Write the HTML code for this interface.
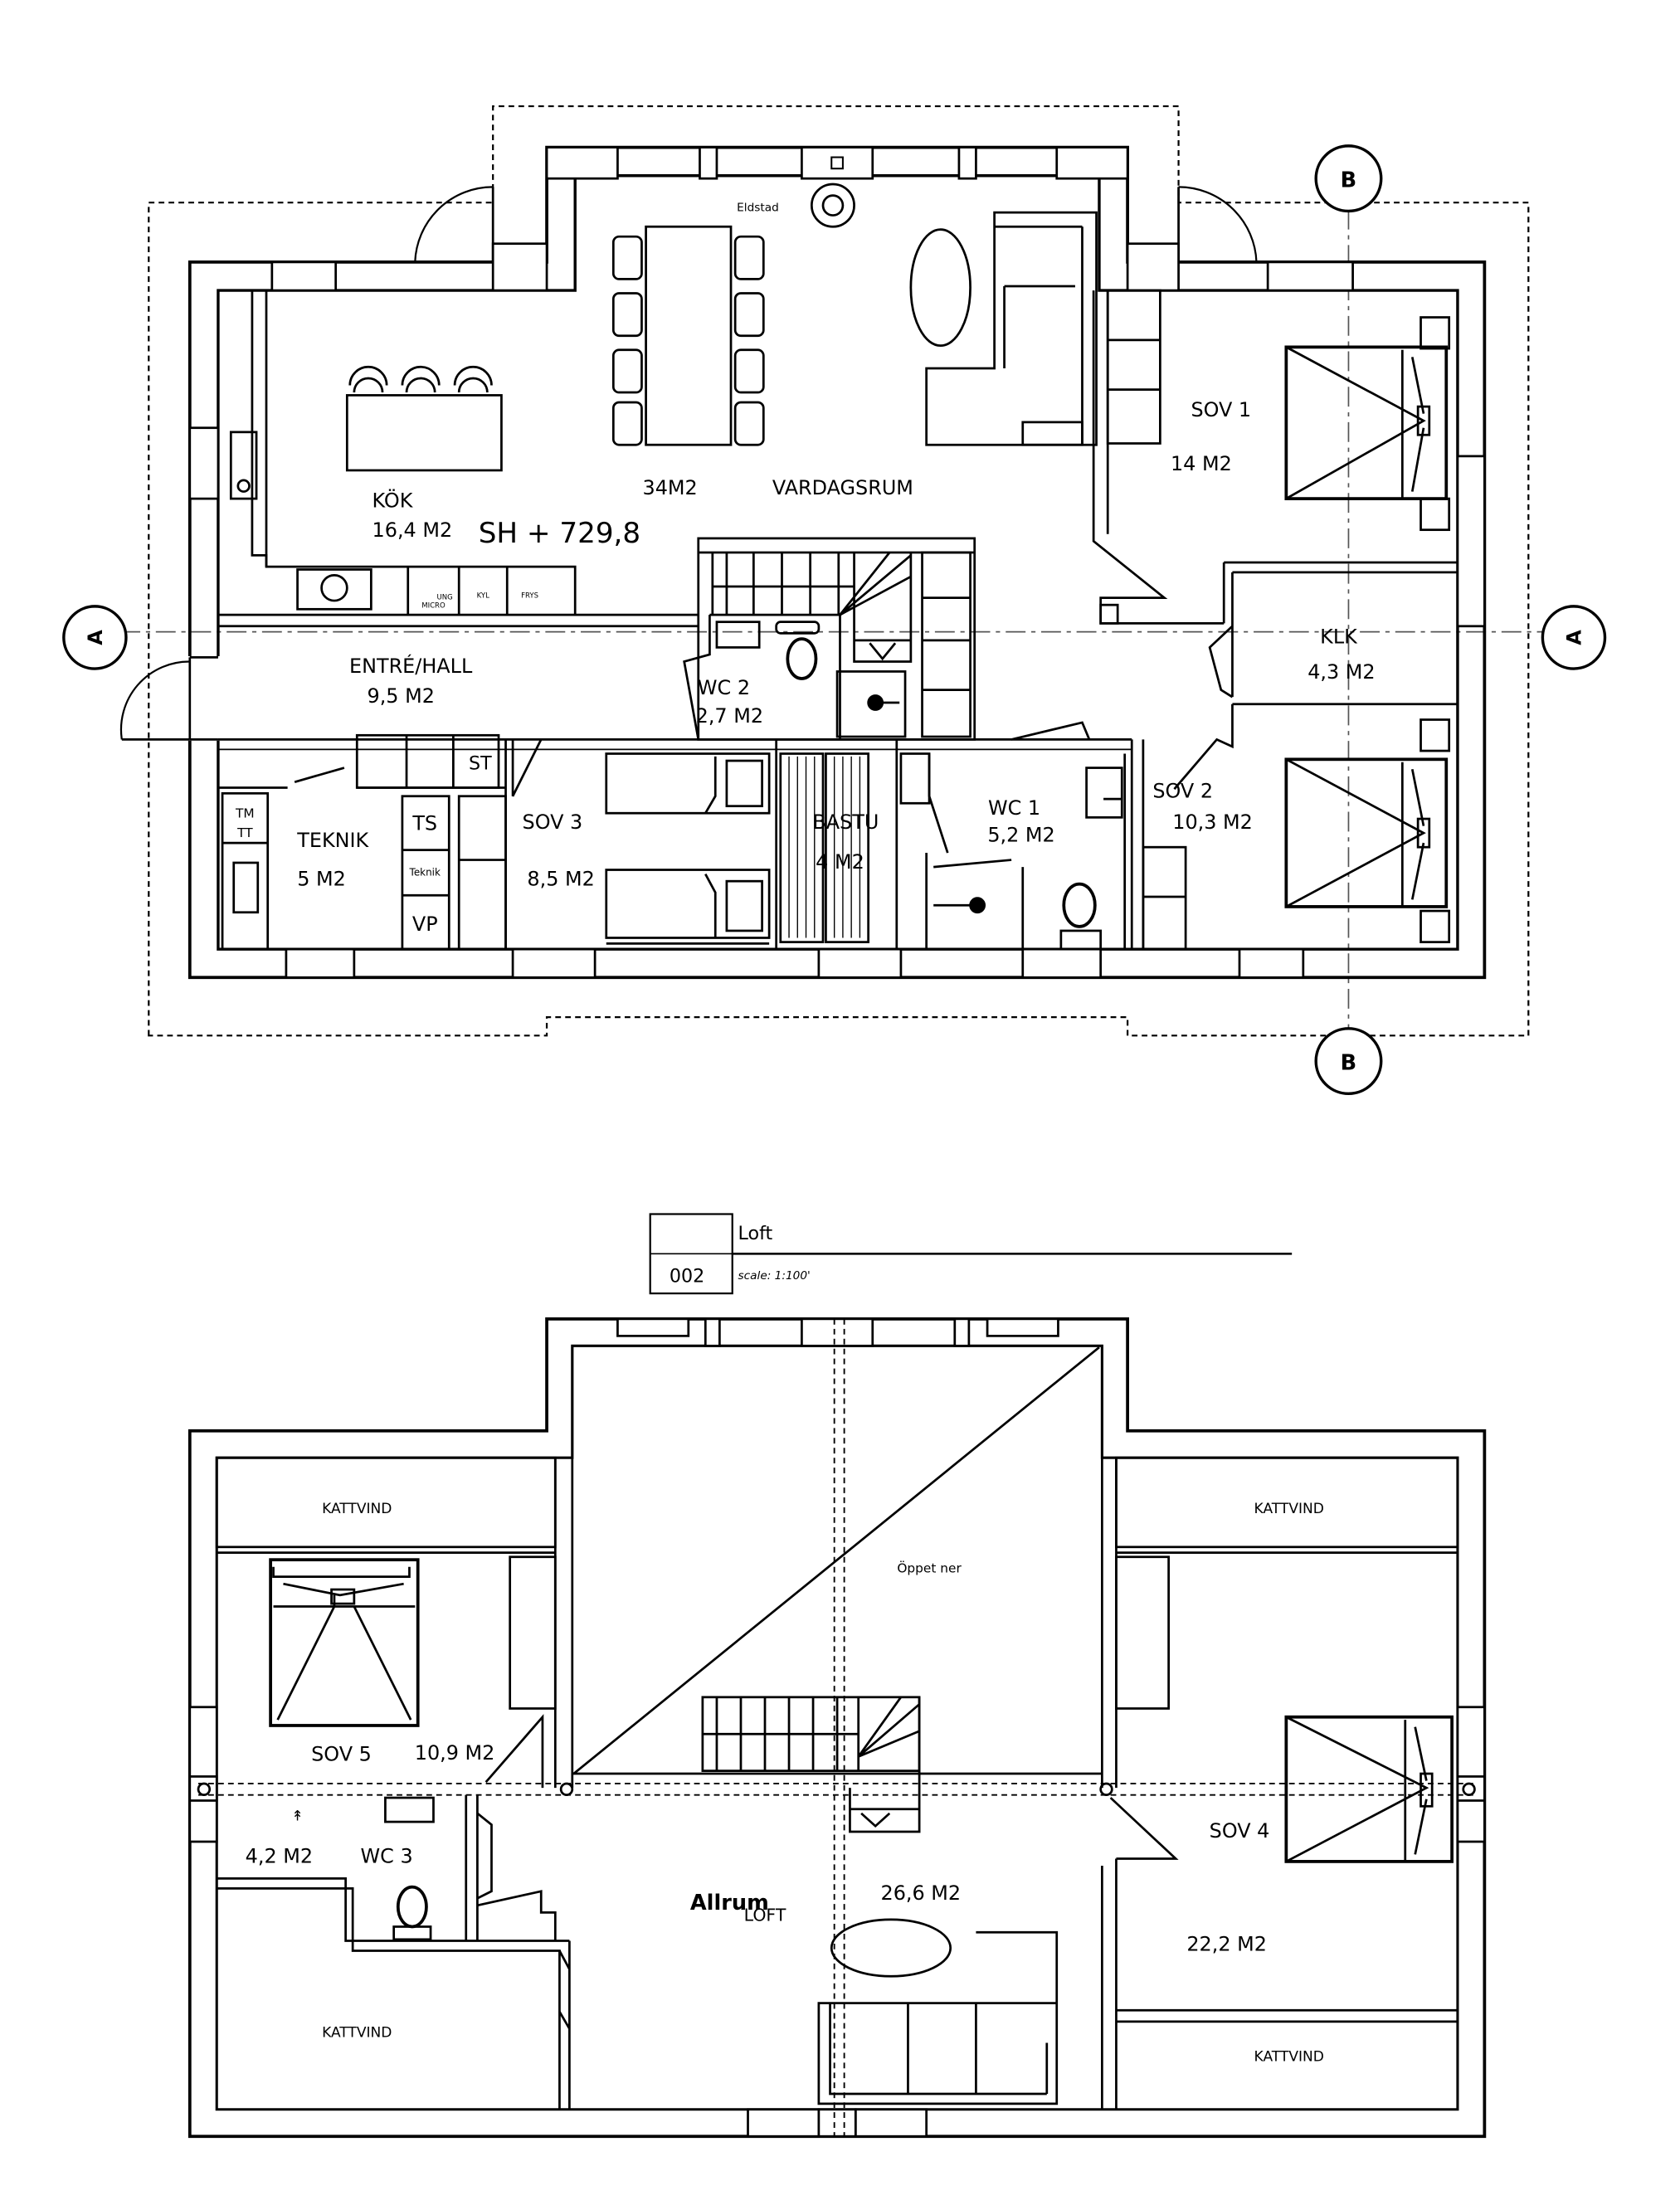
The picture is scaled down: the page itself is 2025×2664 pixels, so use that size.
<!DOCTYPE html>
<html><head><meta charset="utf-8"><style>
html,body{margin:0;padding:0;background:#fff}
svg{display:block}
text{font-family:"DejaVu Sans","Liberation Sans",sans-serif;fill:#000}
</style></head><body>
<svg width="2025" height="2664" viewBox="0 0 1186 1560" xmlns="http://www.w3.org/2000/svg" preserveAspectRatio="none">
<rect width="1186" height="1560" fill="#fff"/>
<g fill="none" stroke="#000" stroke-width="1.6">
<!-- ========== TOP PLAN ========== -->
<path d="M105,731 V143 H348 V75 H832 V143 H1079 V731 H796 V718 H386 V731 Z" stroke-dasharray="4,3" stroke-width="1.3"/>
<line x1="85" y1="446" x2="1090" y2="446" stroke-dasharray="14,4,3,4" stroke-width="1" stroke="#555"/>
<line x1="952" y1="148" x2="952" y2="727" stroke-dasharray="14,4,3,4" stroke-width="1" stroke="#555"/>
<circle cx="67" cy="450" r="22" fill="#fff" stroke-width="2"/>
<circle cx="1111" cy="450" r="22" fill="#fff" stroke-width="2"/>
<circle cx="952" cy="126" r="23" fill="#fff" stroke-width="2"/>
<circle cx="952" cy="749" r="23" fill="#fff" stroke-width="2"/>
<path d="M134,185 H386 V104 H796 V185 H1048 V690 H134 Z" stroke-width="2.2"/>
<path d="M154,205 H406 V124 H776 V205 H1029 V670 H154 Z" stroke-width="2"/>
<rect x="386" y="104" width="50" height="22" fill="#fff"/>
<rect x="746" y="104" width="50" height="22" fill="#fff"/>
<rect x="566" y="104" width="50" height="22" fill="#fff"/>
<rect x="494" y="104" width="12" height="22" fill="#fff"/>
<rect x="677" y="104" width="12" height="22" fill="#fff"/>
<rect x="587" y="111" width="8" height="8" stroke-width="1.2"/>
<path d="M293,185 A55,55 0 0,1 348,132" stroke-width="1.3"/>
<line x1="348" y1="132" x2="348" y2="185"/>
<path d="M832,132 A55,55 0 0,1 887,185" stroke-width="1.3"/>
<line x1="832" y1="132" x2="832" y2="185"/>
<rect x="348" y="172" width="38" height="33" fill="#fff"/>
<rect x="796" y="172" width="36" height="33" fill="#fff"/>
<rect x="130" y="464" width="28" height="58" fill="#fff" stroke="#fff"/>
<line x1="134" y1="464" x2="154" y2="464"/><line x1="134" y1="522" x2="154" y2="522"/>
<line x1="134" y1="464" x2="134" y2="522"/>
<path d="M86,522 A48,48 0 0,1 134,467" stroke-width="1.3"/>
<line x1="86" y1="522" x2="134" y2="522"/>
<rect x="134" y="302" width="20" height="50" fill="#fff"/>
<rect x="1029" y="322" width="19" height="120" fill="#fff"/>
<rect x="202" y="670" width="48" height="20" fill="#fff"/>
<rect x="362" y="670" width="58" height="20" fill="#fff"/>
<rect x="578" y="670" width="58" height="20" fill="#fff"/>
<rect x="722" y="670" width="55" height="20" fill="#fff"/>
<rect x="875" y="670" width="45" height="20" fill="#fff"/>
<rect x="192" y="185" width="45" height="20" fill="#fff"/>
<rect x="895" y="185" width="60" height="20" fill="#fff"/>
<path d="M154,205 H178 V392 H188 V400 H406 V434"/>
<rect x="163" y="305" width="18" height="47"/>
<circle cx="172" cy="343" r="4"/>
<line x1="188" y1="205" x2="188" y2="400"/>
<rect x="210" y="402" width="52" height="28"/>
<circle cx="236" cy="415" r="9"/>
<line x1="288" y1="400" x2="288" y2="434"/><line x1="324" y1="400" x2="324" y2="434"/><line x1="358" y1="400" x2="358" y2="434"/>
<line x1="154" y1="434" x2="493" y2="434"/><line x1="154" y1="442" x2="493" y2="442"/>
<rect x="245" y="279" width="109" height="53"/>
<path d="M250,277 a10,10 0 0,1 20,0 M287,277 a10,10 0 0,1 20,0 M324,277 a10,10 0 0,1 20,0"/>
<path d="M247,272 a13,13 0 0,1 26,0 M284,272 a13,13 0 0,1 26,0 M321,272 a13,13 0 0,1 26,0"/>
<rect x="456" y="160" width="60" height="154"/>
<rect x="433" y="167" width="20" height="30" rx="4"/><rect x="433" y="207" width="20" height="30" rx="4"/><rect x="433" y="247" width="20" height="30" rx="4"/><rect x="433" y="284" width="20" height="30" rx="4"/>
<rect x="519" y="167" width="20" height="30" rx="4"/><rect x="519" y="207" width="20" height="30" rx="4"/><rect x="519" y="247" width="20" height="30" rx="4"/><rect x="519" y="284" width="20" height="30" rx="4"/>
<circle cx="588" cy="145" r="15"/><circle cx="588" cy="145" r="7"/>
<ellipse cx="664" cy="203" rx="21" ry="41"/>
<path d="M702,150 H774 V314 H654 V260 H702 Z"/>
<line x1="702" y1="160" x2="764" y2="160"/><line x1="764" y1="160" x2="764" y2="314"/>
<line x1="709" y1="260" x2="709" y2="202"/><line x1="709" y1="202" x2="759" y2="202"/>
<rect x="722" y="298" width="42" height="16"/>
<path d="M772,205 V382 L822,422 H777 V440 H864"/>
<line x1="782" y1="205" x2="782" y2="377"/>
<rect x="782" y="205" width="37" height="108"/>
<line x1="782" y1="240" x2="819" y2="240"/><line x1="782" y1="275" x2="819" y2="275"/>
<rect x="777" y="427" width="12" height="13"/>
<rect x="908" y="245" width="113" height="107" stroke-width="2.2"/>
<path d="M908,245 L1005,297 L908,352 M990,247 V352 M997,252 L1005,292 M997,347 L1005,302"/>
<rect x="1001" y="287" width="8" height="20"/>
<rect x="1003" y="224" width="20" height="22"/><rect x="1003" y="352" width="20" height="22"/>
<path d="M864,397 H1029 M870,404 H1029 M870,404 V492 M870,497 H1029 M864,397 V440"/>
<path d="M870,442 L854,457 L862,487 L870,492"/>
<path d="M870,497 V527 L859,522 L829,557"/>
<rect x="908" y="536" width="113" height="104" stroke-width="2.2"/>
<path d="M908,536 L1005,588 L908,640 M990,538 V640 M997,543 L1005,583 M997,635 L1005,595"/>
<rect x="1001" y="578" width="8" height="20"/>
<rect x="1003" y="508" width="20" height="22"/><rect x="1003" y="643" width="20" height="22"/>
<path d="M799,522 V670 M807,522 V670"/>
<rect x="807" y="598" width="30" height="72"/><line x1="807" y1="633" x2="837" y2="633"/>
<rect x="493" y="380" width="195" height="142"/>
<line x1="493" y1="390" x2="688" y2="390"/>
<path d="M503,390 V434 M513,390 V434 M532,390 V434 M552,390 V434 M572,390 V434 M592,390 V434 M503,414 H603"/>
<path d="M603,390 V467 H643 V390 M593,434 L643,392 M593,434 L643,407 M593,434 L628,390 M603,452 H643 M614,454 L623,465 L632,454"/>
<rect x="651" y="390" width="34" height="130"/>
<line x1="651" y1="422" x2="685" y2="422"/><line x1="651" y1="452" x2="685" y2="452"/><line x1="651" y1="487" x2="685" y2="487"/>
<path d="M501,434 H593 V522 M501,434 V462 L483,467 L493,522"/>
<rect x="506" y="439" width="30" height="18"/>
<rect x="548" y="439" width="30" height="8" rx="3"/>
<ellipse cx="566" cy="465" rx="10" ry="14" stroke-width="2.2"/>
<rect x="591" y="474" width="48" height="46"/>
<circle cx="618" cy="496" r="5" fill="#000"/><line x1="618" y1="496" x2="635" y2="496"/>
<line x1="154" y1="522" x2="799" y2="522"/><line x1="154" y1="529" x2="799" y2="529" stroke-width="1"/>
<path d="M714,522 L764,510 L769,522"/>
<rect x="252" y="519" width="100" height="37"/>
<line x1="287" y1="519" x2="287" y2="556"/><line x1="320" y1="519" x2="320" y2="556"/>
<path d="M154,556 H203 M208,552 L243,542 M252,556 H357"/>
<path d="M357,522 V670 M362,522 V562 L382,522"/>
<rect x="284" y="562" width="33" height="108"/>
<line x1="284" y1="600" x2="317" y2="600"/><line x1="284" y1="632" x2="317" y2="632"/>
<rect x="324" y="562" width="33" height="108"/>
<line x1="324" y1="607" x2="357" y2="607"/>
<rect x="157" y="560" width="32" height="110"/>
<line x1="157" y1="595" x2="189" y2="595"/>
<rect x="165" y="609" width="17" height="35"/>
<rect x="428" y="532" width="115" height="42"/><rect x="513" y="537" width="25" height="32"/>
<path d="M505,534 V562 L498,574"/>
<rect x="428" y="614" width="115" height="48"/><rect x="513" y="622" width="25" height="35"/>
<path d="M505,662 V630 L498,617"/>
<line x1="428" y1="666" x2="543" y2="666"/>
<path d="M548,522 V670 M633,522 V670"/>
<rect x="551" y="532" width="30" height="133"/><rect x="583" y="532" width="30" height="133"/>
<path d="M557,534 V662 M563,534 V662 M569,534 V662 M575,534 V662 M589,534 V662 M595,534 V662 M601,534 V662 M607,534 V662" stroke-width="0.8"/>
<rect x="636" y="532" width="20" height="35"/>
<path d="M656,532 V562 L669,602 M654,602 V670 M659,612 L714,607 M722,612 V670"/>
<circle cx="690" cy="639" r="5" fill="#000"/><line x1="659" y1="639" x2="690" y2="639"/>
<ellipse cx="762" cy="639" rx="11" ry="15" stroke-width="2.2"/>
<rect x="749" y="657" width="28" height="13"/>
<rect x="767" y="542" width="25" height="35"/><line x1="779" y1="564" x2="792" y2="564"/>
<line x1="794" y1="532" x2="794" y2="670"/>

<!-- ========== BOTTOM PLAN ========== -->
<rect x="459" y="857" width="58" height="56" stroke-width="1.3"/>
<line x1="459" y1="885" x2="517" y2="885" stroke-width="1"/>
<line x1="517" y1="885" x2="912" y2="885" stroke-width="1.6"/>
<path d="M134,1010 H386 V931 H796 V1010 H1048 V1508 H134 Z" stroke-width="2.2"/>
<path d="M153,1029 H404 V950 H778 V1029 H1029 V1489 H153 Z" stroke-width="1.8"/>
<rect x="436" y="931" width="50" height="12" fill="#fff"/><rect x="498" y="931" width="10" height="19" fill="#fff"/>
<rect x="566" y="931" width="50" height="19" fill="#fff"/><rect x="674" y="931" width="10" height="19" fill="#fff"/>
<rect x="697" y="931" width="50" height="12" fill="#fff"/>
<rect x="528" y="1489" width="50" height="19" fill="#fff"/><rect x="604" y="1489" width="50" height="19" fill="#fff"/>
<rect x="578" y="1489" width="26" height="19" fill="#fff"/>
<rect x="134" y="1205" width="19" height="95" fill="#fff"/><rect x="1029" y="1205" width="19" height="95" fill="#fff"/>
<rect x="134" y="1254" width="19" height="17" fill="#fff"/><rect x="1029" y="1254" width="19" height="17" fill="#fff"/>
<path d="M392,1029 V1262 M404,950 V1262 M778,950 V1262 M788,1029 V1262"/>
<line x1="405" y1="1252" x2="776" y2="951"/>
<line x1="404" y1="1252" x2="778" y2="1252"/>
<rect x="153" y="1029" width="239" height="63"/><line x1="153" y1="1096" x2="392" y2="1096"/>
<rect x="788" y="1029" width="241" height="63"/><line x1="788" y1="1096" x2="1029" y2="1096"/>
<rect x="360" y="1099" width="32" height="107"/>
<rect x="788" y="1099" width="37" height="107"/>
<rect x="191" y="1101" width="104" height="117" stroke-width="2.2"/>
<path d="M193,1106 V1113 H289 V1106 M193,1134 H293 M200,1118 L240,1126 L285,1118 M236,1126 V1134 M236,1134 L196,1214 M250,1134 L290,1214"/>
<rect x="234" y="1122" width="16" height="10"/>
<path d="M343,1258 L383,1212 V1262"/>
<path d="M140,1259 H1040 M140,1267 H1040" stroke-dasharray="4,3" stroke-width="1.1"/>
<path d="M589,931 V1508 M596,931 V1508" stroke-dasharray="4,3" stroke-width="1.1"/>
<circle cx="144" cy="1263" r="4"/><circle cx="1037" cy="1263" r="4"/><circle cx="400" cy="1263" r="4"/><circle cx="781" cy="1263" r="4"/>
<rect x="496" y="1198" width="153" height="52"/>
<path d="M506,1198 V1250 M523,1198 V1250 M540,1198 V1250 M557,1198 V1250 M574,1198 V1250 M591,1198 V1250 M496,1224 H606 M606,1198 V1250 M649,1198 V1293 H600 V1262 M606,1240 L649,1203 M606,1240 L636,1198 M606,1240 L649,1222 M600,1277 H649 M608,1280 L618,1289 L628,1280"/>
<rect x="908" y="1212" width="117" height="102" stroke-width="2.2"/>
<path d="M908,1212 L1007,1262 L908,1314 M992,1214 V1314 M999,1219 L1007,1257 M999,1309 L1007,1270"/>
<rect x="1003" y="1252" width="8" height="23"/>
<path d="M784,1269 L830,1312 H788 M778,1317 V1489 M788,1312 V1489"/>
<path d="M788,1419 H1029 M788,1427 H1029"/>
<path d="M153,1326 H244 V1370 H402 M153,1333 H249 V1377 H395 V1489 M402,1370 V1489 M329,1267 V1370 M337,1267 V1370"/>
<rect x="272" y="1269" width="34" height="17"/>
<ellipse cx="291" cy="1346" rx="10" ry="14" stroke-width="2.2"/>
<rect x="278" y="1360" width="26" height="9"/>
<path d="M337,1280 L347,1288 V1335 L337,1340 M337,1345 L382,1335 V1350 L392,1350 V1370 M395,1377 L402,1390 M395,1420 L402,1432"/>
<ellipse cx="629" cy="1375" rx="42" ry="20"/>
<path d="M578,1414 H746 V1485 H578 Z M689,1364 H746 V1485 M586,1414 V1478 H739 M641,1414 V1478 M689,1414 V1478 M739,1442 V1478"/>
</g>
<g>
<text x="535" y="149" font-size="8" text-anchor="middle">Eldstad</text>
<text x="277" y="358" font-size="14" text-anchor="middle">KÖK</text>
<text x="291" y="379" font-size="14" text-anchor="middle">16,4 M2</text>
<text x="395" y="383" font-size="20" text-anchor="middle">SH + 729,8</text>
<text x="473" y="349" font-size="14" text-anchor="middle">34M2</text>
<text x="595" y="349" font-size="14" text-anchor="middle">VARDAGSRUM</text>
<text x="862" y="294" font-size="14" text-anchor="middle">SOV 1</text>
<text x="848" y="332" font-size="14" text-anchor="middle">14 M2</text>
<text x="945" y="454" font-size="14" text-anchor="middle">KLK</text>
<text x="947" y="479" font-size="14" text-anchor="middle">4,3 M2</text>
<text x="290" y="475" font-size="14" text-anchor="middle">ENTRÉ/HALL</text>
<text x="283" y="496" font-size="14" text-anchor="middle">9,5 M2</text>
<text x="511" y="490" font-size="14" text-anchor="middle">WC 2</text>
<text x="515" y="510" font-size="14" text-anchor="middle">2,7 M2</text>
<text x="339" y="543" font-size="13" text-anchor="middle">ST</text>
<text x="173" y="577" font-size="9" text-anchor="middle">TM</text>
<text x="173" y="591" font-size="9" text-anchor="middle">TT</text>
<text x="235" y="598" font-size="14" text-anchor="middle">TEKNIK</text>
<text x="227" y="625" font-size="14" text-anchor="middle">5 M2</text>
<text x="300" y="586" font-size="14" text-anchor="middle">TS</text>
<text x="300" y="618" font-size="7" text-anchor="middle">Teknik</text>
<text x="300" y="657" font-size="14" text-anchor="middle">VP</text>
<text x="390" y="585" font-size="14" text-anchor="middle">SOV 3</text>
<text x="396" y="625" font-size="14" text-anchor="middle">8,5 M2</text>
<text x="597" y="585" font-size="14" text-anchor="middle">BASTU</text>
<text x="593" y="613" font-size="14" text-anchor="middle">4  M2</text>
<text x="716" y="575" font-size="14" text-anchor="middle">WC 1</text>
<text x="721" y="594" font-size="14" text-anchor="middle">5,2 M2</text>
<text x="835" y="563" font-size="14" text-anchor="middle">SOV 2</text>
<text x="856" y="585" font-size="14" text-anchor="middle">10,3  M2</text>
<text x="314" y="423" font-size="5" text-anchor="middle">UNG</text>
<text x="306" y="429" font-size="5" text-anchor="middle">MICRO</text>
<text x="341" y="422" font-size="5" text-anchor="middle">KYL</text>
<text x="374" y="422" font-size="5" text-anchor="middle">FRYS</text>
<text x="67" y="455" font-size="14" font-weight="bold" text-anchor="middle" transform="rotate(-90 67 450)">A</text>
<text x="1111" y="455" font-size="14" font-weight="bold" text-anchor="middle" transform="rotate(-90 1111 450)">A</text>
<text x="952" y="132" font-size="15" font-weight="bold" text-anchor="middle">B</text>
<text x="952" y="755" font-size="15" font-weight="bold" text-anchor="middle">B</text>
<text x="521" y="875" font-size="13" font-family="Liberation Serif,serif">Loft</text>
<text x="485" y="905" font-size="13" text-anchor="middle" fill="#444">002</text>
<text x="521" y="903" font-size="8" font-style="italic" fill="#555">scale: 1:100'</text>
<text x="252" y="1068" font-size="10" text-anchor="middle">KATTVIND</text>
<text x="910" y="1068" font-size="10" text-anchor="middle">KATTVIND</text>
<text x="252" y="1438" font-size="10" text-anchor="middle">KATTVIND</text>
<text x="910" y="1455" font-size="10" text-anchor="middle">KATTVIND</text>
<text x="656" y="1110" font-size="9" text-anchor="middle">Öppet ner</text>
<text x="241" y="1243" font-size="14" text-anchor="middle">SOV 5</text>
<text x="321" y="1242" font-size="14" text-anchor="middle">10,9 M2</text>
<text x="197" y="1315" font-size="14" text-anchor="middle">4,2 M2</text>
<text x="273" y="1315" font-size="14" text-anchor="middle">WC 3</text>
<text x="515" y="1348" font-size="15" font-weight="bold" text-anchor="middle">Allrum</text>
<text x="540" y="1356" font-size="12" text-anchor="middle">LOFT</text>
<text x="650" y="1341" font-size="14" text-anchor="middle">26,6 M2</text>
<text x="875" y="1297" font-size="14" text-anchor="middle">SOV 4</text>
<text x="866" y="1377" font-size="14" text-anchor="middle">22,2  M2</text>
<text x="210" y="1285" font-size="10" text-anchor="middle">↟</text>
</g>
</svg>
</body></html>
